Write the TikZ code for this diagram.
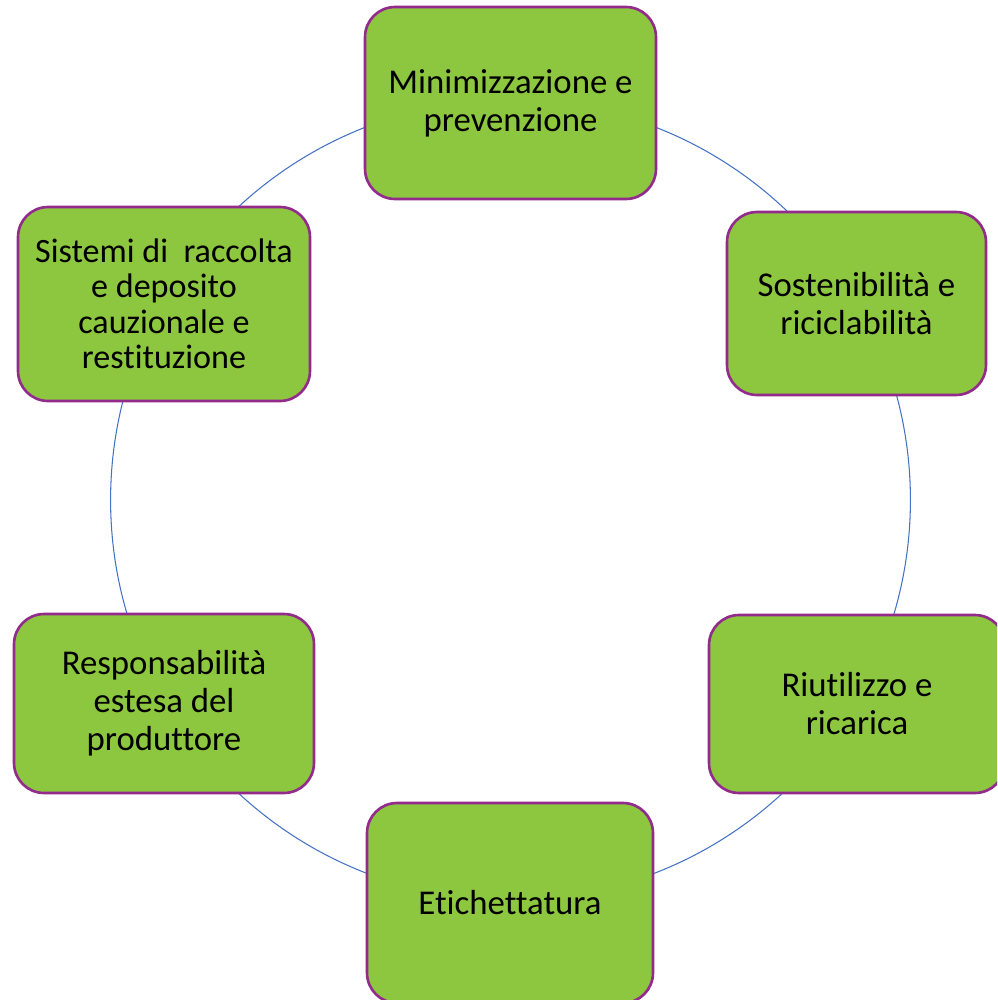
\documentclass[tikz,border=0pt]{standalone}
\usepackage{fontspec}
\setmainfont[Ligatures=NoCommon]{Carlito}
\definecolor{boxgreen}{RGB}{141,198,63}
\definecolor{boxpurple}{RGB}{146,43,140}
\definecolor{ringblue}{RGB}{68,114,196}
\tikzset{
  tappa/.style={draw=boxpurple,fill=boxgreen,line width=1.5pt,rounded corners=0.6cm,
    align=center,inner sep=0pt,font=\fontsize{19.8}{21.6}\selectfont},
}
\begin{document}
\begin{tikzpicture}[x=0.02cm,y=-0.02cm]
		\clip (0,0) rectangle (997,1000);
		\coordinate (centro) at (510.5,500);
		\draw[ringblue,line width=0.6pt] (centro) circle (8cm);
		\node[tappa,minimum width=5.82cm,minimum height=3.84cm] (minimi) at (510.5,103) {Minimizzazione e\\prevenzione};
		\node[tappa,minimum width=5.18cm,minimum height=3.66cm] (sosten) at (856.5,303.5) {Sostenibilità e\\riciclabilità};
		\node[tappa,minimum width=5.92cm,minimum height=3.56cm] (riutil) at (857,704) {Riutilizzo e\\ricarica};
		\node[tappa,minimum width=5.72cm,minimum height=4cm] (etich) at (510,903) {Etichettatura};
		\node[tappa,minimum width=6cm,minimum height=3.58cm] (respons) at (164,703.5) {Responsabilità\\estesa del\\produttore};
		\node[tappa,minimum width=5.84cm,minimum height=3.88cm,font=\fontsize{19.4}{20.2}\selectfont] (sistemi) at (164,304) {Sistemi di\ \ raccolta\\e deposito\\cauzionale e\\restituzione};
\end{tikzpicture}
\end{document}
